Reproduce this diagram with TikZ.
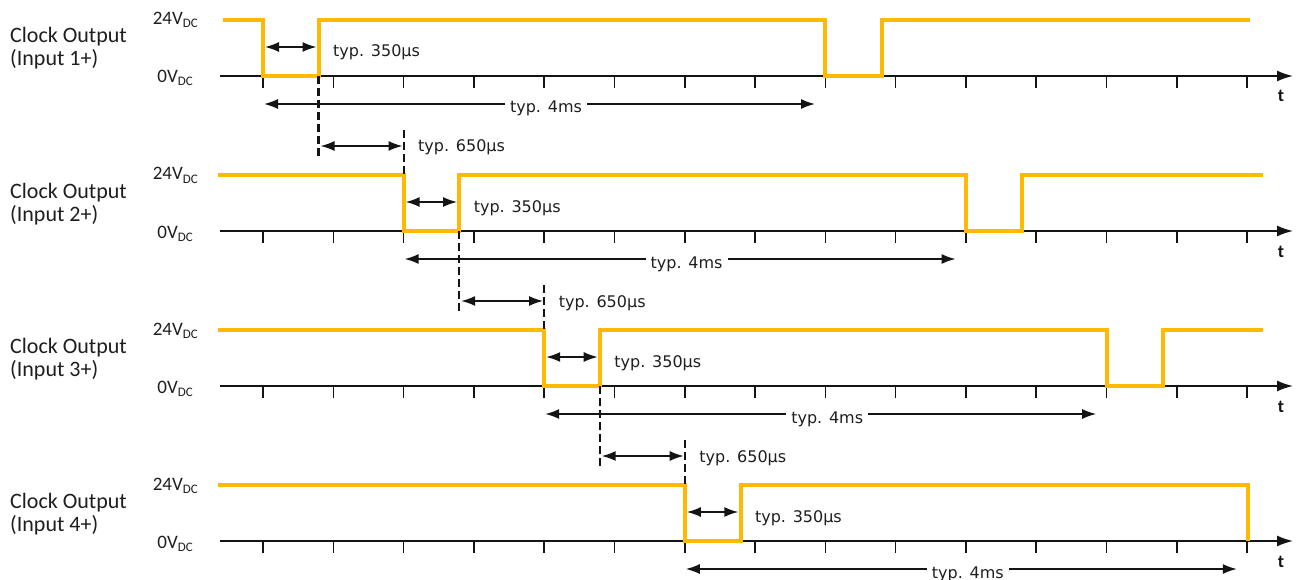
\documentclass[tikz,border=0pt]{standalone}
\usepackage{fontspec}
\setmainfont{Carlito}
\newfontfamily\typfont{DejaVu Sans}
\usetikzlibrary{arrows.meta}
\definecolor{sig}{RGB}{255,185,0}
\definecolor{ink}{RGB}{20,20,20}
\definecolor{txt}{RGB}{30,30,30}
\begin{document}
\begin{tikzpicture}[x=1pt,y=-1pt,
  sigline/.style={sig, line width=4pt, line join=miter},
  axisline/.style={ink, line width=1.7pt, -{Latex[length=16pt,width=11pt]}},
  tickline/.style={ink, line width=1.5pt},
  dimline/.style={ink, line width=1.6pt, {Latex[length=14pt,width=10pt]}-{Latex[length=14pt,width=10pt]}},
  guide/.style={ink, line width=2.2pt, dash pattern=on 8pt off 4pt},
  typlbl/.style={font=\typfont\fontsize{16}{18}\selectfont, text=txt, inner sep=0pt},
  gaplbl/.style={typlbl, fill=white, inner xsep=5pt, inner ysep=1pt},
  namelbl/.style={font=\fontsize{22}{24}\selectfont, text=txt, inner sep=0pt, anchor=base west},
  voltlbl/.style={font=\fontsize{19}{20}\selectfont, text=txt, inner sep=0pt, anchor=base east},
  tlbl/.style={font=\bfseries\fontsize{18}{20}\selectfont, text=ink, inner sep=0pt, anchor=base}
]
\useasboundingbox (0,0) rectangle (1300,580);

% axes, ticks and labels
\foreach \r in {0,1,2,3}{
  \pgfmathsetmacro\yy{76+155*\r}
  \pgfmathtruncatemacro\n{\r+1}
  \draw[axisline] (220,\yy) -- (1293,\yy);
  \foreach \k in {0,...,14}
    \draw[tickline] ({263+70.29*\k},\yy) -- ++(0,12);
  \node[namelbl] (name\n) at (10,\yy-33) {Clock Output};
  \node[namelbl] (inp\n) at (10,\yy-10) {(Input \n+)};
  \node[voltlbl] (hi\n) at (198,\yy-51) {24V\raisebox{-3pt}{\fontsize{13}{13}\selectfont DC}};
  \node[voltlbl] (lo\n) at (193,\yy+7) {0V\raisebox{-3pt}{\fontsize{13}{13}\selectfont DC}};
  \node[tlbl] (t\n) at (1281,\yy+26) {t};
}

% waveforms
\draw[sigline] (223,20) -- (263,20) -- (263,76) -- (318.5,76) -- (318.5,20) -- (825,20) -- (825,76) -- (882,76) -- (882,20) -- (1250,20);
\draw[sigline] (218,175) -- (403.6,175) -- (403.6,231) -- (459,231) -- (459,175) -- (966,175) -- (966,231) -- (1022,231) -- (1022,175) -- (1263,175);
\draw[sigline] (218,330) -- (544.2,330) -- (544.2,386) -- (600,386) -- (600,330) -- (1107,330) -- (1107,386) -- (1163,386) -- (1163,330) -- (1263,330);
\draw[sigline] (218,485) -- (684.8,485) -- (684.8,541) -- (741,541) -- (741,485) -- (1248,485) -- (1248,541);

% dimensions
\foreach \r in {0,1,2,3}{
  \pgfmathsetmacro\yy{76+155*\r}
  \pgfmathsetmacro\f{263+140.6*\r}
  \pgfmathtruncatemacro\n{\r+1}
  \draw[dimline] (\f+2,\yy-29) -- (\f+53.5,\yy-29);
  \node[typlbl, anchor=base west] (low\n) at (\f+70,\yy-19) {typ. 350µs};
  \draw[dimline] (\f+1,\yy+28) -- (\f+552,\yy+28);
  \node[gaplbl, anchor=base] (per\n) at (\f+283,\yy+37) {typ. 4ms};
  \ifnum\r<3
    \draw[dimline] (\f+57.5,\yy+70) -- (\f+139.5,\yy+70);
    \node[typlbl, anchor=base west] (del\n) at (\f+155,\yy+76) {typ. 650µs};
    \draw[guide] (\f+55.5,\yy) -- (\f+55.5,\yy+82);
    \draw[guide] (\f+140.6,\yy+54) -- (\f+140.6,\yy+99);
  \fi
}
\end{tikzpicture}
\end{document}
